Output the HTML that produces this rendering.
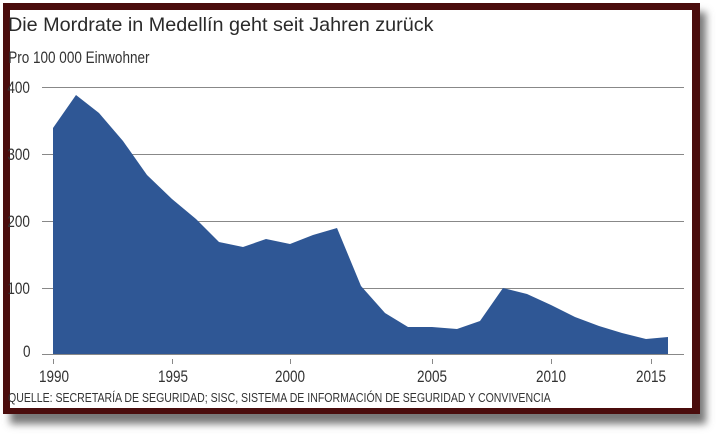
<!DOCTYPE html>
<html><head><meta charset="utf-8"><style>
html,body{margin:0;padding:0;background:#fff;width:718px;height:436px;overflow:hidden}
</style></head><body>
<svg width="718" height="436" viewBox="0 0 718 436" xmlns="http://www.w3.org/2000/svg" font-family="Liberation Sans, sans-serif">
<defs><filter id="sh" x="-5%" y="-5%" width="112%" height="120%"><feGaussianBlur stdDeviation="4"/></filter></defs>
<rect x="10" y="12" width="696" height="412" fill="#777" filter="url(#sh)"/>
<rect x="3" y="3" width="697" height="411" fill="#4a0c0c"/>
<rect x="10" y="10" width="682" height="398" fill="#fff"/>
<text x="8" y="31" font-size="19.8" fill="#2a2a2a">Die Mordrate in Medellín geht seit Jahren zurück</text>
<g font-size="16.5" fill="#333" transform="scale(0.82,1)">
<text x="10" y="63">Pro 100 000 Einwohner</text>
<text x="9" y="93">400</text>
<text x="9" y="160">300</text>
<text x="9" y="227">200</text>
<text x="9" y="294">100</text>
<text x="28" y="357">0</text>
</g>
<g stroke="#888" stroke-width="1">
<line x1="42" y1="87.5" x2="684" y2="87.5"/>
<line x1="42" y1="154.5" x2="684" y2="154.5"/>
<line x1="42" y1="221.5" x2="684" y2="221.5"/>
<line x1="42" y1="288.5" x2="684" y2="288.5"/>
</g>
<polygon fill="#2f5795" points="53,354 53,128 76,95 99,113 123,141 147,175 172,199 196,219 219,242 243,247 266,239 290,244 313,235 337,228 361,286 385,313 408,327 432,327 457,329 480,321 503,288 527,294 551,305 575,317 599,326 622,333 646,339 668,337 668,354"/>
<line x1="42" y1="354.5" x2="684" y2="354.5" stroke="#888"/>
<g stroke="#888"><line x1="53.5" y1="359" x2="53.5" y2="364"/><line x1="172.5" y1="359" x2="172.5" y2="364"/><line x1="290.5" y1="359" x2="290.5" y2="364"/><line x1="432.5" y1="359" x2="432.5" y2="364"/><line x1="551.5" y1="359" x2="551.5" y2="364"/><line x1="651.5" y1="359" x2="651.5" y2="364"/></g>
<g font-size="16.5" fill="#333" text-anchor="middle">
<text transform="translate(54,382) scale(0.82,1)">1990</text>
<text transform="translate(173,382) scale(0.82,1)">1995</text>
<text transform="translate(290,382) scale(0.82,1)">2000</text>
<text transform="translate(432,382) scale(0.82,1)">2005</text>
<text transform="translate(551,382) scale(0.82,1)">2010</text>
<text transform="translate(651,382) scale(0.82,1)">2015</text>
</g>
<text transform="translate(8,402) scale(0.8,1)" font-size="13.2" fill="#333">QUELLE: SECRETARÍA DE SEGURIDAD; SISC, SISTEMA DE INFORMACIÓN DE SEGURIDAD Y CONVIVENCIA</text>
</svg>
</body></html>
